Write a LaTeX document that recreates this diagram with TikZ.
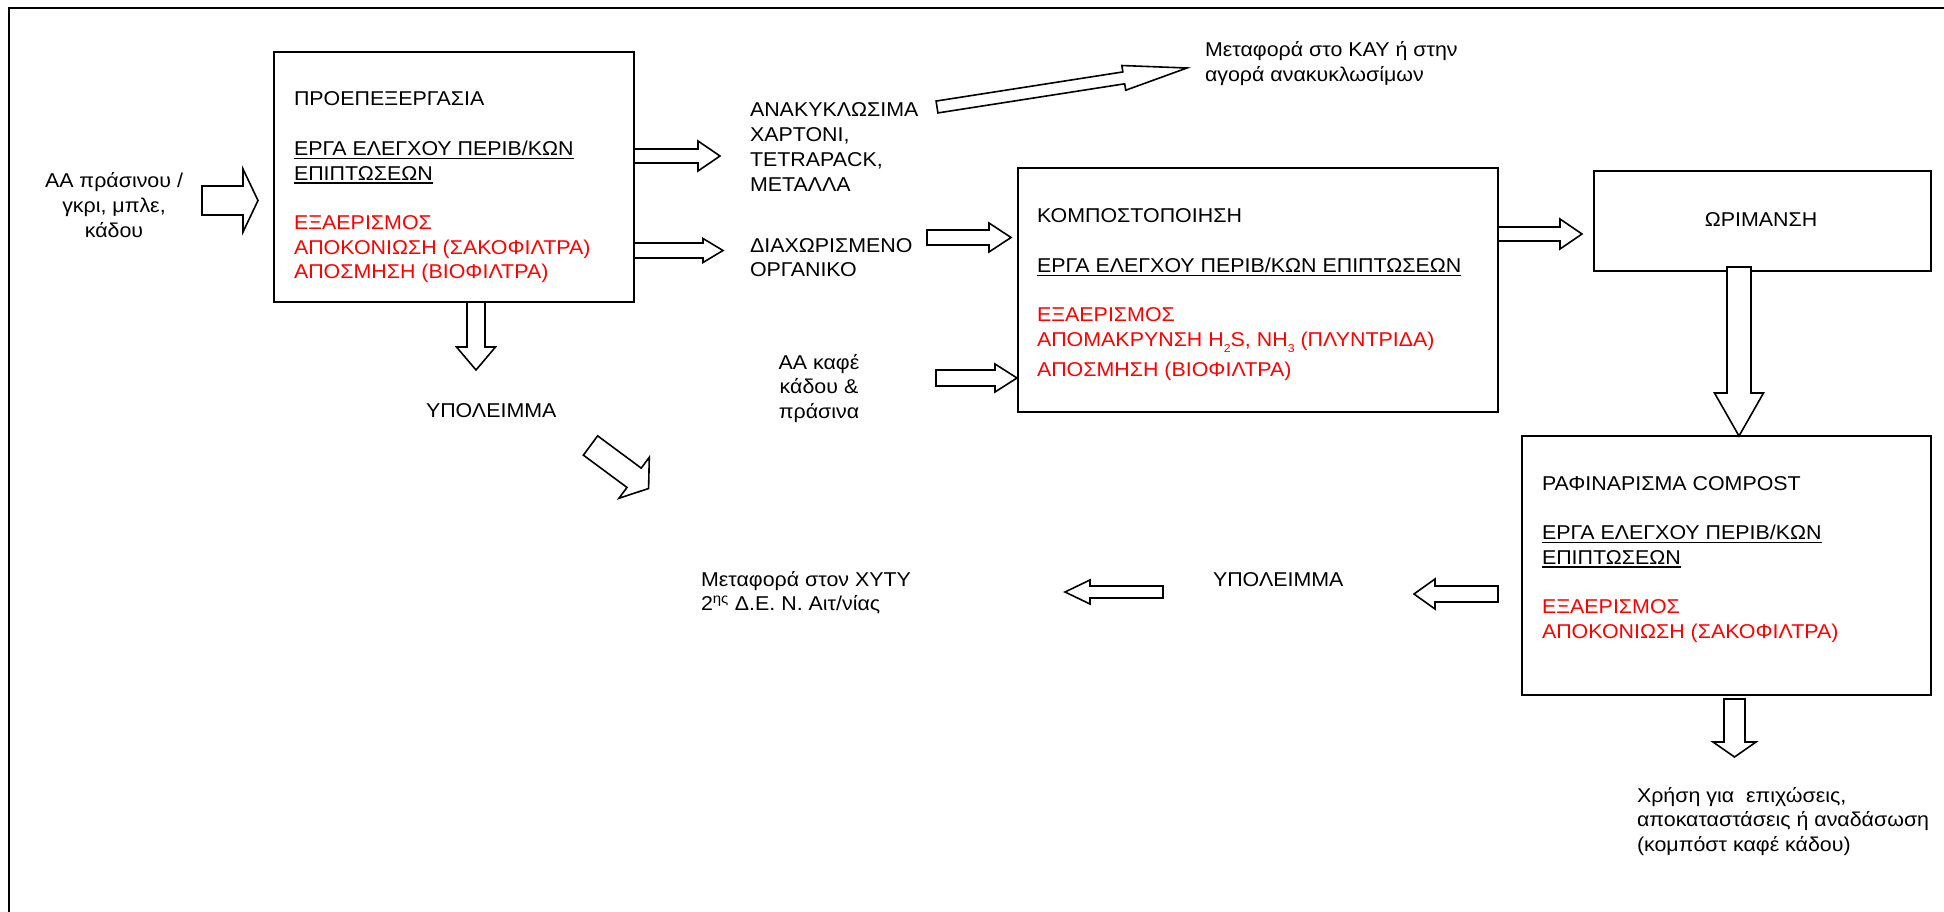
\documentclass[tikz,border=0pt]{standalone}
\usepackage{fontspec}
\setmainfont{Liberation Sans}[FakeStretch=1.07]
\usetikzlibrary{calc}
\frenchspacing
\definecolor{redtxt}{RGB}{255,0,0}
\newcommand\uln[1]{\setbox0\hbox{#1}\rlap{\rule[-3.5pt]{\wd0}{1.3pt}}\box0}
\newcommand\lowsub[1]{\smash{\raisebox{-6.5pt}{\fontsize{11.5}{11.5}\selectfont #1}}}
\newcommand\blockarrow[5]{%
  \draw[blockarr] let \p1=(#1), \p2=(#2),
     \n1={scalar(atan2(\y2-\y1,\x2-\x1))}, \n2={scalar(veclen(\x2-\x1,\y2-\y1)-#5)} in
     ($(\x1,\y1)+({\n1+90}:#3pt)$) --
     ($(\x1,\y1)+(\n1:\n2pt)+({\n1+90}:#3pt)$) --
     ($(\x1,\y1)+(\n1:\n2pt)+({\n1+90}:#4pt)$) --
     (\x2,\y2) --
     ($(\x1,\y1)+(\n1:\n2pt)+({\n1-90}:#4pt)$) --
     ($(\x1,\y1)+(\n1:\n2pt)+({\n1-90}:#3pt)$) --
     ($(\x1,\y1)+({\n1-90}:#3pt)$) -- cycle;}
\tikzset{
  box/.style={draw, line width=2pt, inner sep=0pt, outer sep=0pt, anchor=north west},
  blockarr/.style={draw, fill=white, line width=1.6pt, line join=miter},
  txt/.style={inner sep=0pt, outer sep=0pt, font=\fontsize{20}{24.7}\selectfont},
}
\begin{document}
\begin{tikzpicture}[x=1pt,y=-1pt]
\useasboundingbox (0,0) rectangle (1944,912);
\fill[white] (0,0) rectangle (1944,912);
% outer frame (open to the right and bottom)
\draw[line width=2.5pt] (9,930) -- (9,8) -- (1960,8);

% boxes
\node[box, minimum width=360pt, minimum height=250pt] (b1) at (274,52) {};
\node[box, minimum width=480pt, minimum height=244pt] (b2) at (1018,168) {};
\node[box, minimum width=337pt, minimum height=100pt] (b3) at (1594,171) {};
\node[box, minimum width=409pt, minimum height=259pt] (b4) at (1522,436) {};

% box texts
\node[txt, anchor=base west] (t1) at (294,106) {\begin{tabular}[t]{@{}l@{}}
ΠΡΟΕΠΕΞΕΡΓΑΣΙΑ\\ \\
\uln{ΕΡΓΑ ΕΛΕΓΧΟΥ ΠΕΡΙΒ/ΚΩΝ}\\
\uln{ΕΠΙΠΤΩΣΕΩΝ}\\ \\
\color{redtxt}ΕΞΑΕΡΙΣΜΟΣ\\
\color{redtxt}ΑΠΟΚΟΝΙΩΣΗ (ΣΑΚΟΦΙΛΤΡΑ)\\
\color{redtxt}ΑΠΟΣΜΗΣΗ (ΒΙΟΦΙΛΤΡΑ)\end{tabular}};

\node[txt, anchor=base west] (t2) at (1037,223) {\begin{tabular}[t]{@{}l@{}}
ΚΟΜΠΟΣΤΟΠΟΙΗΣΗ\\ \\
\uln{ΕΡΓΑ ΕΛΕΓΧΟΥ ΠΕΡΙΒ/ΚΩΝ ΕΠΙΠΤΩΣΕΩΝ}\\ \\
\color{redtxt}ΕΞΑΕΡΙΣΜΟΣ\\
\color{redtxt}ΑΠΟΜΑΚΡΥΝΣΗ H\lowsub{2}S, NH\lowsub{3} (ΠΛΥΝΤΡΙΔΑ)\\[5.8pt]
\color{redtxt}ΑΠΟΣΜΗΣΗ (ΒΙΟΦΙΛΤΡΑ)\end{tabular}};

\node[txt, anchor=base] (t3) at (1761,226) {ΩΡΙΜΑΝΣΗ};

\node[txt, anchor=base west] (t4) at (1542,490) {\begin{tabular}[t]{@{}l@{}}
ΡΑΦΙΝΑΡΙΣΜΑ COMPOST\\ \\
\uln{ΕΡΓΑ ΕΛΕΓΧΟΥ ΠΕΡΙΒ/ΚΩΝ}\\
\uln{ΕΠΙΠΤΩΣΕΩΝ}\\ \\
\color{redtxt}ΕΞΑΕΡΙΣΜΟΣ\\
\color{redtxt}ΑΠΟΚΟΝΙΩΣΗ (ΣΑΚΟΦΙΛΤΡΑ)\end{tabular}};

% free texts
\node[txt, anchor=base] (inp) at (114,188) {\begin{tabular}[t]{@{}c@{}}ΑΑ πράσινου /\\ γκρι, μπλε,\\ κάδου\end{tabular}};
\node[txt, anchor=base west] (rec) at (750,117) {\begin{tabular}[t]{@{}l@{}}ΑΝΑΚΥΚΛΩΣΙΜΑ\\ ΧΑΡΤΟΝΙ,\\ TETRAPACK,\\ ΜΕΤΑΛΛΑ\end{tabular}};
\node[txt, anchor=base west] (org) at (750,252) {\begin{tabular}[t]{@{}l@{}}ΔΙΑΧΩΡΙΣΜΕΝΟ\\ ΟΡΓΑΝΙΚΟ\end{tabular}};
\node[txt, anchor=base] (kafe) at (819,369) {\begin{tabular}[t]{@{}c@{}}ΑΑ καφέ\\ κάδου \&\\ πράσινα\end{tabular}};
\node[txt, anchor=base west] (kay) at (1205,57) {\begin{tabular}[t]{@{}l@{}}Μεταφορά στο ΚΑΥ ή στην\\ αγορά ανακυκλωσίμων\end{tabular}};
\node[txt, anchor=base west] (res1) at (426,417) {ΥΠΟΛΕΙΜΜΑ};
\node[txt, anchor=base west] (res2) at (1213,586) {ΥΠΟΛΕΙΜΜΑ};
\node[txt, anchor=base west] (xyty) at (701,586) {\begin{tabular}[t]{@{}l@{}}Μεταφορά στον ΧΥΤΥ\\ 2\textsuperscript{ης} Δ.Ε. Ν. Αιτ/νίας\end{tabular}};
\node[txt, anchor=base west] (use) at (1637,802) {\begin{tabular}[t]{@{}l@{}}Χρήση για~ επιχώσεις,\\ αποκαταστάσεις ή αναδάσωση\\ (κομπόστ καφέ κάδου)\end{tabular}};

% arrow end points
\coordinate (inT) at (202,200.5);   \coordinate (inH) at (258,200.5);
\coordinate (recH) at (720,156);
\coordinate (orgH) at (723,250.5);
\coordinate (orgT2) at (927,237.5); \coordinate (orgH2) at (1011,237.5);
\coordinate (kafeT) at (936,378);   \coordinate (kafeH) at (1017,378);
\coordinate (kayT) at (937,107);    \coordinate (kayH) at (1187,68);
\coordinate (d1H) at (476,370);
\coordinate (diagT) at (590.5,445.5); \coordinate (diagH) at (648.6,488.5);
\coordinate (a23H) at (1582,234);
\coordinate (a34T) at (1739,267);
\coordinate (a4rT) at (1498,594);   \coordinate (a4rH) at (1414,594);
\coordinate (r2T) at (1163,592);    \coordinate (r2H) at (1065,592);
\coordinate (a4dT) at (1734.5,699); \coordinate (a4dH) at (1734.5,757);

% block arrows
\blockarrow{inT}{inH}{14.5}{31.5}{15}
\blockarrow{b1.east |- recH}{recH}{7}{15}{22}
\blockarrow{b1.east |- orgH}{orgH}{7.5}{12}{20}
\blockarrow{orgT2}{orgH2}{7.5}{14.5}{22}
\blockarrow{kafeT}{kafeH}{8}{14}{22}
\blockarrow{kayT}{kayH}{6}{12.5}{64}
\blockarrow{b1.south -| d1H}{d1H}{9}{19.5}{23}
\blockarrow{diagT}{diagH}{12}{25.5}{18}
\blockarrow{b2.east |- a23H}{a23H}{7}{15}{22}
\blockarrow{a34T}{b4.north -| a34T}{12}{24.5}{43}
\blockarrow{a4rT}{a4rH}{8}{15}{21}
\blockarrow{r2T}{r2H}{6}{12}{25}
\blockarrow{a4dT}{a4dH}{10.5}{21.5}{15}
\end{tikzpicture}
\end{document}
